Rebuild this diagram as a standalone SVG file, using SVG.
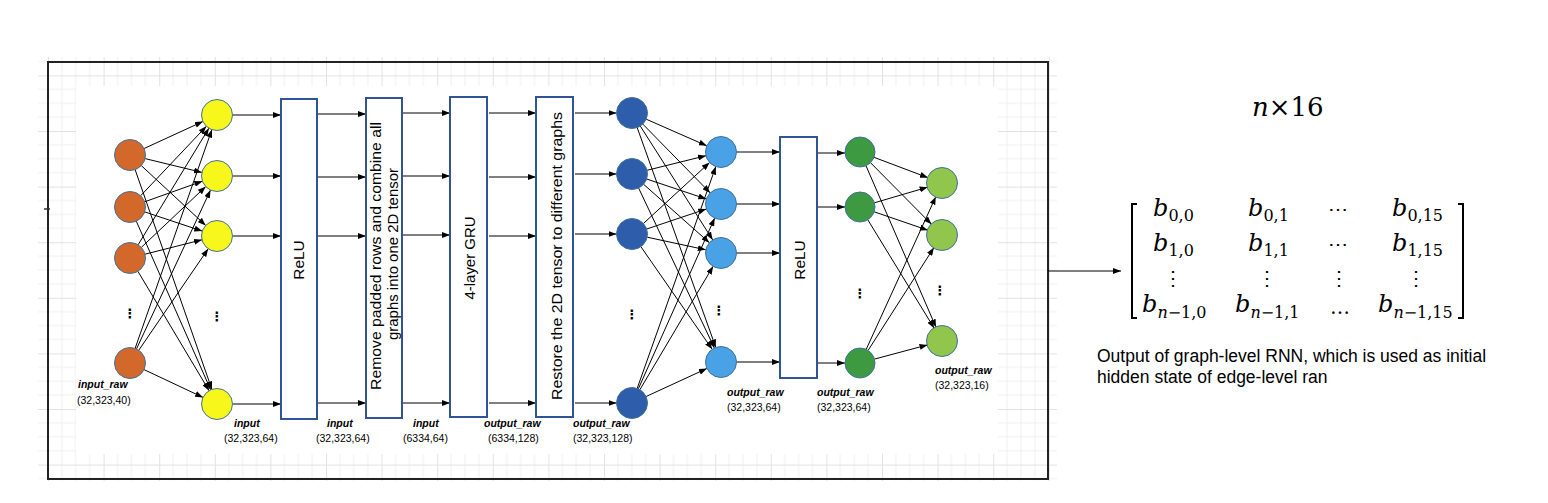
<svg xmlns="http://www.w3.org/2000/svg" width="1548" height="503" viewBox="0 0 1548 503">
<defs>
<style>
.edge{stroke:#000;stroke-width:1;fill:none;marker-end:url(#ah)}
.nd{stroke:#41719C;stroke-width:1}
.box{fill:#fff;stroke:#2F5597;stroke-width:2}
.bt{font-family:"Liberation Sans",Arial,sans-serif;font-size:15.5px;fill:#000;text-anchor:middle;dominant-baseline:central}
.lb{font-family:"Liberation Sans",Arial,sans-serif;font-size:10.5px;font-weight:bold;font-style:italic;fill:#000}
.ln{font-family:"Liberation Sans",Arial,sans-serif;font-size:10.5px;fill:#000}
.dots{font-family:"DejaVu Sans",sans-serif;font-size:13px;font-weight:bold;fill:#000;text-anchor:middle}
.mb{font-family:"DejaVu Serif",serif;font-size:24px;font-style:italic;fill:#000}
.ms{font-size:16px;font-style:normal}
.md{font-family:"DejaVu Serif",serif;font-size:20px;fill:#000;text-anchor:middle}
.cap{font-family:"Liberation Sans",Arial,sans-serif;font-size:17.5px;fill:#000}
</style>
<marker id="ah" markerWidth="8" markerHeight="6" refX="8" refY="3" orient="auto" markerUnits="userSpaceOnUse">
<path d="M0,0 L8,3 L0,6 z" fill="#000"/>
</marker>
<pattern id="grid" patternUnits="userSpaceOnUse" x="48" y="19.8" width="55.6" height="55.6">
<path d="M13.9,0 V55.6 M27.8,0 V55.6 M41.7,0 V55.6 M0,13.9 H55.6 M0,27.8 H55.6 M0,41.7 H55.6" stroke="#efefef" stroke-width="1" fill="none"/>
<path d="M0.5,0 V55.6 M0,0.5 H55.6" stroke="#e2e2e2" stroke-width="1" fill="none"/>
</pattern>
</defs>
<rect width="1548" height="503" fill="#fff"/>
<g id="background">
<rect x="38" y="57" width="1019" height="424" fill="url(#grid)"/>
<rect x="76" y="86" width="922" height="368" fill="#fff"/>
<rect x="48" y="62" width="1000" height="417" fill="none" stroke="#222" stroke-width="2"/>
<line x1="44" y1="209" x2="50" y2="209" stroke="#333" stroke-width="1.5"/>
</g>
<g id="connectors">
<line class="edge" x1="144.1" y1="148.5" x2="202.9" y2="121.5"/>
<line class="edge" x1="145.1" y1="158.6" x2="201.9" y2="172.4"/>
<line class="edge" x1="141.3" y1="165.6" x2="205.7" y2="225.4"/>
<line class="edge" x1="135.1" y1="169.6" x2="211.9" y2="389.4"/>
<line class="edge" x1="140.7" y1="195.7" x2="206.4" y2="126.3"/>
<line class="edge" x1="144.6" y1="201.8" x2="202.4" y2="181.2"/>
<line class="edge" x1="144.7" y1="211.9" x2="202.3" y2="231.1"/>
<line class="edge" x1="136.3" y1="221.2" x2="210.7" y2="389.8"/>
<line class="edge" x1="138.1" y1="244.8" x2="208.9" y2="128.2"/>
<line class="edge" x1="141.3" y1="247.4" x2="205.7" y2="186.6"/>
<line class="edge" x1="145" y1="254.2" x2="202" y2="239.8"/>
<line class="edge" x1="137.9" y1="271.3" x2="209.1" y2="390.7"/>
<line class="edge" x1="135.1" y1="348.4" x2="211.9" y2="129.6"/>
<line class="edge" x1="136.5" y1="348.9" x2="210.5" y2="190.1"/>
<line class="edge" x1="138.8" y1="350.2" x2="208.2" y2="248.8"/>
<line class="edge" x1="144" y1="369.6" x2="203" y2="397.4"/>
<line class="edge" x1="233" y1="115" x2="281" y2="115"/>
<line class="edge" x1="233" y1="176" x2="281" y2="176"/>
<line class="edge" x1="233" y1="236" x2="281" y2="236"/>
<line class="edge" x1="233" y1="404" x2="281" y2="404"/>
<line class="edge" x1="318" y1="114" x2="366" y2="114"/>
<line class="edge" x1="318" y1="177" x2="366" y2="177"/>
<line class="edge" x1="318" y1="236" x2="366" y2="236"/>
<line class="edge" x1="318" y1="403" x2="366" y2="403"/>
<line class="edge" x1="403" y1="113" x2="450" y2="113"/>
<line class="edge" x1="403" y1="176" x2="450" y2="176"/>
<line class="edge" x1="403" y1="235" x2="450" y2="235"/>
<line class="edge" x1="403" y1="403" x2="450" y2="403"/>
<line class="edge" x1="489" y1="113" x2="536" y2="113"/>
<line class="edge" x1="489" y1="177" x2="536" y2="177"/>
<line class="edge" x1="489" y1="236" x2="536" y2="236"/>
<line class="edge" x1="489" y1="403" x2="536" y2="403"/>
<line class="edge" x1="575" y1="113" x2="616.5" y2="113"/>
<line class="edge" x1="575" y1="174" x2="616.5" y2="174"/>
<line class="edge" x1="575" y1="234" x2="616.5" y2="234"/>
<line class="edge" x1="575" y1="403" x2="616.5" y2="403"/>
<line class="edge" x1="646.2" y1="119.2" x2="706.8" y2="145.8"/>
<line class="edge" x1="642.8" y1="124.1" x2="710.2" y2="192.9"/>
<line class="edge" x1="640.3" y1="126.1" x2="712.7" y2="239.9"/>
<line class="edge" x1="637.2" y1="127.6" x2="715.8" y2="347.4"/>
<line class="edge" x1="647" y1="170.3" x2="706" y2="155.7"/>
<line class="edge" x1="646.7" y1="179" x2="706.3" y2="199"/>
<line class="edge" x1="643.6" y1="184.3" x2="709.4" y2="242.7"/>
<line class="edge" x1="638.6" y1="188" x2="714.4" y2="348"/>
<line class="edge" x1="643.4" y1="223.5" x2="709.6" y2="162.5"/>
<line class="edge" x1="646.7" y1="229" x2="706.3" y2="209"/>
<line class="edge" x1="647.2" y1="237.2" x2="705.8" y2="249.8"/>
<line class="edge" x1="640.9" y1="246.7" x2="712.2" y2="349.3"/>
<line class="edge" x1="637.2" y1="388.4" x2="715.8" y2="166.6"/>
<line class="edge" x1="638.3" y1="388.9" x2="714.7" y2="218.1"/>
<line class="edge" x1="639.9" y1="389.7" x2="713.1" y2="266.3"/>
<line class="edge" x1="646.1" y1="396.5" x2="706.9" y2="368.5"/>
<line class="edge" x1="736.5" y1="152" x2="780" y2="152"/>
<line class="edge" x1="736.5" y1="204" x2="780" y2="204"/>
<line class="edge" x1="736.5" y1="253" x2="780" y2="253"/>
<line class="edge" x1="736.5" y1="362" x2="780" y2="362"/>
<line class="edge" x1="818" y1="153" x2="845" y2="153"/>
<line class="edge" x1="818" y1="207" x2="845" y2="207"/>
<line class="edge" x1="818" y1="363" x2="845" y2="363"/>
<line class="edge" x1="874" y1="157.3" x2="928" y2="177.7"/>
<line class="edge" x1="870.5" y1="162.7" x2="931.5" y2="224.3"/>
<line class="edge" x1="866" y1="165.8" x2="936" y2="327.2"/>
<line class="edge" x1="874.4" y1="202.8" x2="927.6" y2="187.2"/>
<line class="edge" x1="874.2" y1="211.8" x2="927.8" y2="230.2"/>
<line class="edge" x1="867.8" y1="219.8" x2="934.2" y2="328.2"/>
<line class="edge" x1="866.2" y1="349.4" x2="935.8" y2="196.7"/>
<line class="edge" x1="868.1" y1="350.4" x2="933.9" y2="247.6"/>
<line class="edge" x1="874.5" y1="359.1" x2="927.5" y2="344.9"/>
<line class="edge" x1="1048" y1="271" x2="1121" y2="271"/>
</g>
<g id="input-raw-layer">
<circle class="nd" cx="130" cy="155" r="15.5" fill="#D2692A"/>
<circle class="nd" cx="130" cy="207" r="15.5" fill="#D2692A"/>
<circle class="nd" cx="130" cy="258" r="15.5" fill="#D2692A"/>
<circle class="nd" cx="130" cy="363" r="15.5" fill="#D2692A"/>
<text class="dots" x="130" y="318">⋮</text>
<text class="lb" x="78" y="388">input_raw</text>
<text class="ln" x="77" y="404">(32,323,40)</text>
</g>
<g id="input-layer">
<circle class="nd" cx="217" cy="115" r="15.5" fill="#F7F71C"/>
<circle class="nd" cx="217" cy="176" r="15.5" fill="#F7F71C"/>
<circle class="nd" cx="217" cy="236" r="15.5" fill="#F7F71C"/>
<circle class="nd" cx="217" cy="404" r="15.5" fill="#F7F71C"/>
<text class="dots" x="217" y="321">⋮</text>
<text class="lb" x="234" y="427">input</text>
<text class="ln" x="224" y="442">(32,323,64)</text>
</g>
<g id="relu1">
<rect class="box" x="281" y="99" width="36" height="320"/>
<text class="bt" transform="translate(298,260) rotate(-90)">ReLU</text>
<text class="lb" x="327" y="427">input</text>
<text class="ln" x="316" y="442">(32,323,64)</text>
</g>
<g id="remove-padded">
<rect class="box" x="366" y="98" width="36" height="320"/>
<text class="bt" transform="translate(375.5,256) rotate(-90)" textLength="268" lengthAdjust="spacingAndGlyphs">Remove padded rows and combine all</text>
<text class="bt" transform="translate(392.5,254) rotate(-90)" textLength="172" lengthAdjust="spacingAndGlyphs">graphs into one 2D tensor</text>
<text class="lb" x="413" y="427">input</text>
<text class="ln" x="403" y="442">(6334,64)</text>
</g>
<g id="gru">
<rect class="box" x="450" y="97" width="37" height="320"/>
<text class="bt" transform="translate(469,258) rotate(-90)" textLength="83" lengthAdjust="spacingAndGlyphs">4-layer GRU</text>
<text class="lb" x="484" y="427">output_raw</text>
<text class="ln" x="488" y="442">(6334,128)</text>
</g>
<g id="restore">
<rect class="box" x="536" y="97" width="37" height="320"/>
<text class="bt" transform="translate(556,256) rotate(-90)" textLength="288" lengthAdjust="spacingAndGlyphs">Restore the 2D tensor to different graphs</text>
<text class="lb" x="573" y="427">output_raw</text>
<text class="ln" x="573" y="442">(32,323,128)</text>
</g>
<g id="gru-output-layer">
<circle class="nd" cx="632" cy="113" r="15.5" fill="#2E5DAB"/>
<circle class="nd" cx="632" cy="174" r="15.5" fill="#2E5DAB"/>
<circle class="nd" cx="632" cy="234" r="15.5" fill="#2E5DAB"/>
<circle class="nd" cx="632" cy="403" r="15.5" fill="#2E5DAB"/>
<text class="dots" x="632" y="319">⋮</text>
</g>
<g id="linear-layer">
<circle class="nd" cx="721" cy="152" r="15.5" fill="#49A2E6"/>
<circle class="nd" cx="721" cy="204" r="15.5" fill="#49A2E6"/>
<circle class="nd" cx="721" cy="253" r="15.5" fill="#49A2E6"/>
<circle class="nd" cx="721" cy="362" r="15.5" fill="#49A2E6"/>
<text class="dots" x="719" y="315">⋮</text>
<text class="lb" x="727" y="396">output_raw</text>
<text class="ln" x="727" y="411">(32,323,64)</text>
</g>
<g id="relu2">
<rect class="box" x="780" y="137" width="37" height="241"/>
<text class="bt" transform="translate(799,260) rotate(-90)">ReLU</text>
<text class="lb" x="817" y="396">output_raw</text>
<text class="ln" x="817" y="411">(32,323,64)</text>
</g>
<g id="relu-output-layer">
<circle class="nd" cx="860" cy="152" r="15" fill="#3D9A41"/>
<circle class="nd" cx="860" cy="207" r="15" fill="#3D9A41"/>
<circle class="nd" cx="860" cy="363" r="15" fill="#3D9A41"/>
<text class="dots" x="860" y="298">⋮</text>
</g>
<g id="final-layer">
<circle class="nd" cx="942" cy="183" r="15.5" fill="#90C64C"/>
<circle class="nd" cx="942" cy="235" r="15.5" fill="#90C64C"/>
<circle class="nd" cx="942" cy="341" r="15.5" fill="#90C64C"/>
<text class="dots" x="940" y="295">⋮</text>
<text class="lb" x="935" y="374">output_raw</text>
<text class="ln" x="935" y="389">(32,323,16)</text>
</g>
<g id="matrix">
<text class="mb" x="1252" y="116" style="font-size:26px"><tspan>n</tspan><tspan font-style="normal">×16</tspan></text>
<path d="M1137,204 H1132 V318 H1137 M1458,204 H1463 V318 H1458" fill="none" stroke="#000" stroke-width="2"/>
<text class="mb" x="1153" y="216">b<tspan class="ms" dy="5">0,0</tspan></text>
<text class="mb" x="1248" y="216">b<tspan class="ms" dy="5">0,1</tspan></text>
<text class="md" x="1338" y="216">⋯</text>
<text class="mb" x="1392" y="216">b<tspan class="ms" dy="5">0,15</tspan></text>
<text class="mb" x="1153" y="251">b<tspan class="ms" dy="5">1,0</tspan></text>
<text class="mb" x="1248" y="251">b<tspan class="ms" dy="5">1,1</tspan></text>
<text class="md" x="1338" y="251">⋯</text>
<text class="mb" x="1392" y="251">b<tspan class="ms" dy="5">1,15</tspan></text>
<text class="md" x="1173" y="285">⋮</text>
<text class="md" x="1267" y="285">⋮</text>
<text class="md" x="1339" y="285">⋮</text>
<text class="md" x="1416" y="285">⋮</text>
<text class="mb" x="1142" y="312">b<tspan class="ms" dy="6"><tspan font-style="italic">n</tspan>−1,0</tspan></text>
<text class="mb" x="1235" y="312">b<tspan class="ms" dy="6"><tspan font-style="italic">n</tspan>−1,1</tspan></text>
<text class="md" x="1340" y="314">…</text>
<text class="mb" x="1378" y="312">b<tspan class="ms" dy="6"><tspan font-style="italic">n</tspan>−1,15</tspan></text>
</g>
<g id="caption">
<text class="cap" x="1097" y="362">Output of graph-level RNN, which is used as initial</text>
<text class="cap" x="1097" y="383">hidden state of edge-level ran</text>
</g>
</svg>
